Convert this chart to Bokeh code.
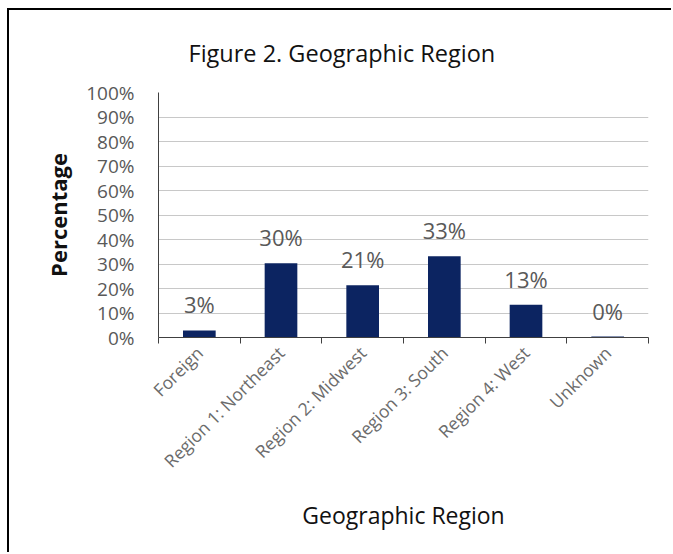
from bokeh.plotting import figure
from bokeh.models import (ColumnDataSource, Range1d, FixedTicker, LabelSet,
                          PrintfTickFormatter, Title)
from bokeh.core.properties import value
from bokeh.embed import file_html
from bokeh.resources import INLINE

categories = ["Foreign", "Region 1: Northeast", "Region 2: Midwest",
              "Region 3: South", "Region 4: West", "Unknown"]
percentages = [2.9, 30.3, 21.3, 33.2, 13.4, 0.4]
y_ticks = [0, 10, 20, 30, 40, 50, 60, 70, 80, 90, 100]
chart_title = "Figure 2. Geographic Region"

FONT = "Open Sans"
x_pos = [i + 0.5 for i in range(len(categories))]
labels = [f"{round(v)}%" for v in percentages]
src = ColumnDataSource(dict(x=x_pos, top=percentages, label=labels))

p = figure(width=664, height=544, output_backend="svg", toolbar_location=None,
           x_range=Range1d(0, len(categories)), y_range=Range1d(0, 100),
           min_border_left=149, min_border_right=25, min_border_top=82,
           min_border_bottom=217)
p.styles = {"margin-left": "7px", "margin-top": "8px",
            "border-left": "2px solid black", "border-top": "2px solid black"}
p.outline_line_color = None
p.background_fill_color = "white"
p.border_fill_color = "white"

p.vbar(x="x", top="top", width=0.4, source=src, fill_color="#0c2461",
       line_color=None)

p.add_layout(LabelSet(x="x", y="top", text="label", source=src, y_offset=11,
                      text_align="center", text_baseline="bottom",
                      text_font=value(FONT), text_font_size=value("22px"),
                      text_color="#595959"))

title = Title(text=chart_title, align="left", offset=30, vertical_align="top",
              text_font=FONT, text_font_size="23.5px", text_font_style="normal",
              text_color="#111111", standoff=44)
p.add_layout(title, "above")

# x axis
xa = p.xaxis[0]
xa.ticker = FixedTicker(ticks=x_pos, minor_ticks=list(range(len(categories) + 1)))
xa.major_label_overrides = {x: c for x, c in zip(x_pos, categories)}
xa.major_tick_out = 0
xa.major_tick_in = 0
xa.minor_tick_out = 6
xa.minor_tick_in = 0
xa.minor_tick_line_color = "#404040"
xa.axis_line_color = "#404040"
xa.major_label_orientation = 0.785398
xa.major_label_text_font = FONT
xa.major_label_text_font_size = "17.5px"
xa.major_label_text_color = "#6b6b6b"
xa.major_label_standoff = 6
xa.axis_label = "Geographic Region"
xa.axis_label_text_font = FONT
xa.axis_label_text_font_size = "23px"
xa.axis_label_text_font_style = "normal"
xa.axis_label_text_color = "#111111"
xa.axis_label_standoff = 15

# y axis
ya = p.yaxis[0]
ya.ticker = FixedTicker(ticks=y_ticks)
ya.formatter = PrintfTickFormatter(format="%d%%")
ya.major_tick_out = 0
ya.major_tick_in = 0
ya.minor_tick_out = 0
ya.minor_tick_in = 0
ya.axis_line_color = "#404040"
ya.major_label_text_font = FONT
ya.major_label_text_font_size = "19px"
ya.major_label_text_color = "#595959"
ya.major_label_standoff = 24
ya.axis_label = "Percentage"
ya.axis_label_text_font = FONT
ya.axis_label_text_font_size = "22px"
ya.axis_label_text_font_style = "bold"
ya.axis_label_text_color = "#111111"
ya.axis_label_standoff = 10

p.xgrid.grid_line_color = None
p.ygrid.grid_line_color = "#c8c8c8"
p.ygrid.grid_line_width = 1

open("out.html", "w").write(file_html(p, INLINE))
